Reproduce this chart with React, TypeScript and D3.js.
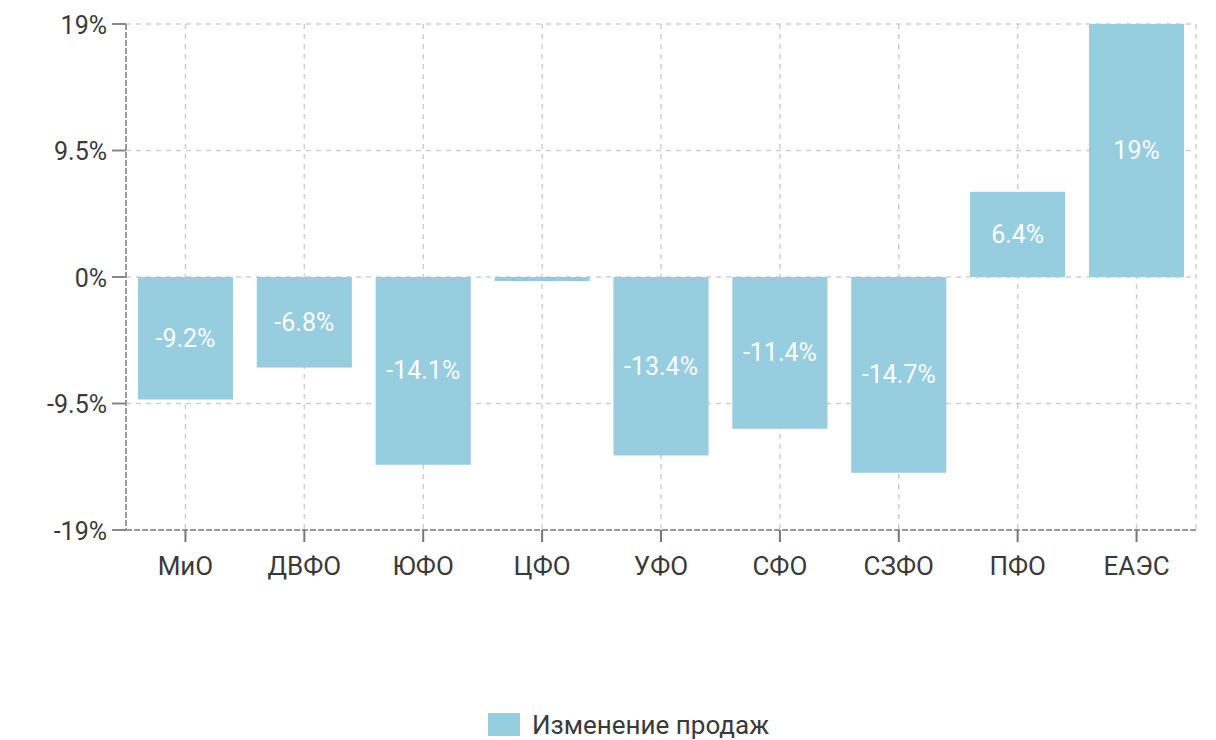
import * as d3 from 'd3';
import React, { useEffect, useRef } from 'react';

const categories = ['МиО', 'ДВФО', 'ЮФО', 'ЦФО', 'УФО', 'СФО', 'СЗФО', 'ПФО', 'ЕАЭС'];
const salesChange = [-9.2, -6.8, -14.1, -0.3, -13.4, -11.4, -14.7, 6.4, 19];
const yTicks = [-19, -9.5, 0, 9.5, 19];
const seriesName = 'Изменение продаж';

const BAR_COLOR = '#96cddf';

export default function App() {
  const svgRef = useRef<SVGSVGElement>(null);

  useEffect(() => {
    if (!svgRef.current) return;
    const width = 1216;
    const height = 740;
    const margin = { top: 24, right: 20, bottom: 210, left: 126 };
    const svg = d3.select(svgRef.current);
    svg.selectAll('*').remove();

    const x = d3.scaleBand<string>()
      .domain(categories)
      .range([margin.left, width - margin.right])
      .paddingInner(0.2)
      .paddingOuter(0.1);
    const y = d3.scaleLinear()
      .domain([-19, 19])
      .range([height - margin.bottom, margin.top]);

    const font = 'Roboto, sans-serif';
    const textColor = '#3a3a3a';
    const right = width - margin.right;

    // grid
    const grid = svg.append('g');
    grid.selectAll('line.h')
      .data(yTicks.filter(t => t !== -19))
      .join('line')
      .attr('x1', margin.left).attr('x2', right)
      .attr('y1', d => y(d)).attr('y2', d => y(d))
      .attr('stroke', '#cfcfcf').attr('stroke-width', 1.5).attr('stroke-dasharray', '5,5');
    grid.selectAll('line.v')
      .data(categories)
      .join('line')
      .attr('x1', d => x(d)! + x.bandwidth() / 2).attr('x2', d => x(d)! + x.bandwidth() / 2)
      .attr('y1', margin.top).attr('y2', y(-19))
      .attr('stroke', '#cfcfcf').attr('stroke-width', 1.5).attr('stroke-dasharray', '5,5');
    grid.append('line')
      .attr('x1', right).attr('x2', right)
      .attr('y1', margin.top).attr('y2', y(-19))
      .attr('stroke', '#cfcfcf').attr('stroke-width', 1.5).attr('stroke-dasharray', '5,5');

    // bars
    const bars = svg.append('g');
    bars.selectAll('rect')
      .data(salesChange)
      .join('rect')
      .attr('x', (_, i) => x(categories[i])!)
      .attr('width', x.bandwidth())
      .attr('y', d => y(Math.max(0, d)))
      .attr('height', d => Math.abs(y(d) - y(0)))
      .attr('fill', BAR_COLOR);

    // bar labels
    salesChange.forEach((v, i) => {
      const cx = x(categories[i])! + x.bandwidth() / 2;
      const cy = (y(v) + y(0)) / 2;
      const h = Math.abs(y(v) - y(0));
      const label = `${v}%`;
      if (h < 20) {
        // label squeezed into a thin bar
        svg.append('text')
          .attr('transform', `translate(${cx},${cy}) scale(1,0.22)`)
          .attr('text-anchor', 'middle')
          .attr('dominant-baseline', 'central')
          .attr('font-family', font)
          .attr('font-size', 25)
          .attr('fill', '#86c6dc')
          .attr('textLength', x.bandwidth() - 10)
          .attr('lengthAdjust', 'spacingAndGlyphs')
          .text(label);
      } else {
        svg.append('text')
          .attr('x', cx).attr('y', cy)
          .attr('text-anchor', 'middle')
          .attr('dominant-baseline', 'central')
          .attr('font-family', font)
          .attr('font-size', 25)
          .attr('fill', '#ffffff')
          .text(label);
      }
    });

    // y axis
    const yAxis = svg.append('g');
    yAxis.append('line')
      .attr('x1', margin.left).attr('x2', margin.left)
      .attr('y1', margin.top).attr('y2', y(-19))
      .attr('stroke', '#999').attr('stroke-width', 2).attr('stroke-dasharray', '6,2');
    yAxis.selectAll('line.t')
      .data(yTicks)
      .join('line')
      .attr('x1', margin.left - 14).attr('x2', margin.left)
      .attr('y1', d => y(d)).attr('y2', d => y(d))
      .attr('stroke', '#888').attr('stroke-width', 2);
    yAxis.selectAll('text')
      .data(yTicks)
      .join('text')
      .attr('x', margin.left - 19)
      .attr('y', d => y(d) + 1)
      .attr('text-anchor', 'end')
      .attr('dominant-baseline', 'central')
      .attr('font-family', font)
      .attr('font-size', 25)
      .attr('fill', textColor)
      .text(d => `${d}%`);

    // x axis
    const xAxis = svg.append('g');
    xAxis.append('line')
      .attr('x1', margin.left).attr('x2', right)
      .attr('y1', y(-19)).attr('y2', y(-19))
      .attr('stroke', '#999').attr('stroke-width', 2).attr('stroke-dasharray', '6,2');
    xAxis.selectAll('line.t')
      .data(categories)
      .join('line')
      .attr('x1', d => x(d)! + x.bandwidth() / 2).attr('x2', d => x(d)! + x.bandwidth() / 2)
      .attr('y1', y(-19)).attr('y2', y(-19) + 12)
      .attr('stroke', '#777').attr('stroke-width', 2);
    xAxis.selectAll('text')
      .data(categories)
      .join('text')
      .attr('x', d => x(d)! + x.bandwidth() / 2)
      .attr('y', y(-19) + 45)
      .attr('text-anchor', 'middle')
      .attr('font-family', font)
      .attr('font-size', 26)
      .attr('fill', textColor)
      .text(d => d);

    // legend
    const legend = svg.append('g');
    legend.append('rect')
      .attr('x', 488).attr('y', 713).attr('width', 32).attr('height', 23)
      .attr('fill', BAR_COLOR);
    legend.append('text')
      .attr('x', 532).attr('y', 734)
      .attr('font-family', font)
      .attr('font-size', 26)
      .attr('fill', textColor)
      .text(seriesName);
  }, []);

  return (
    <svg ref={svgRef} width={1216} height={740}
      style={{ position: 'absolute', left: 0, top: 0, background: '#fff' }} />
  );
}
